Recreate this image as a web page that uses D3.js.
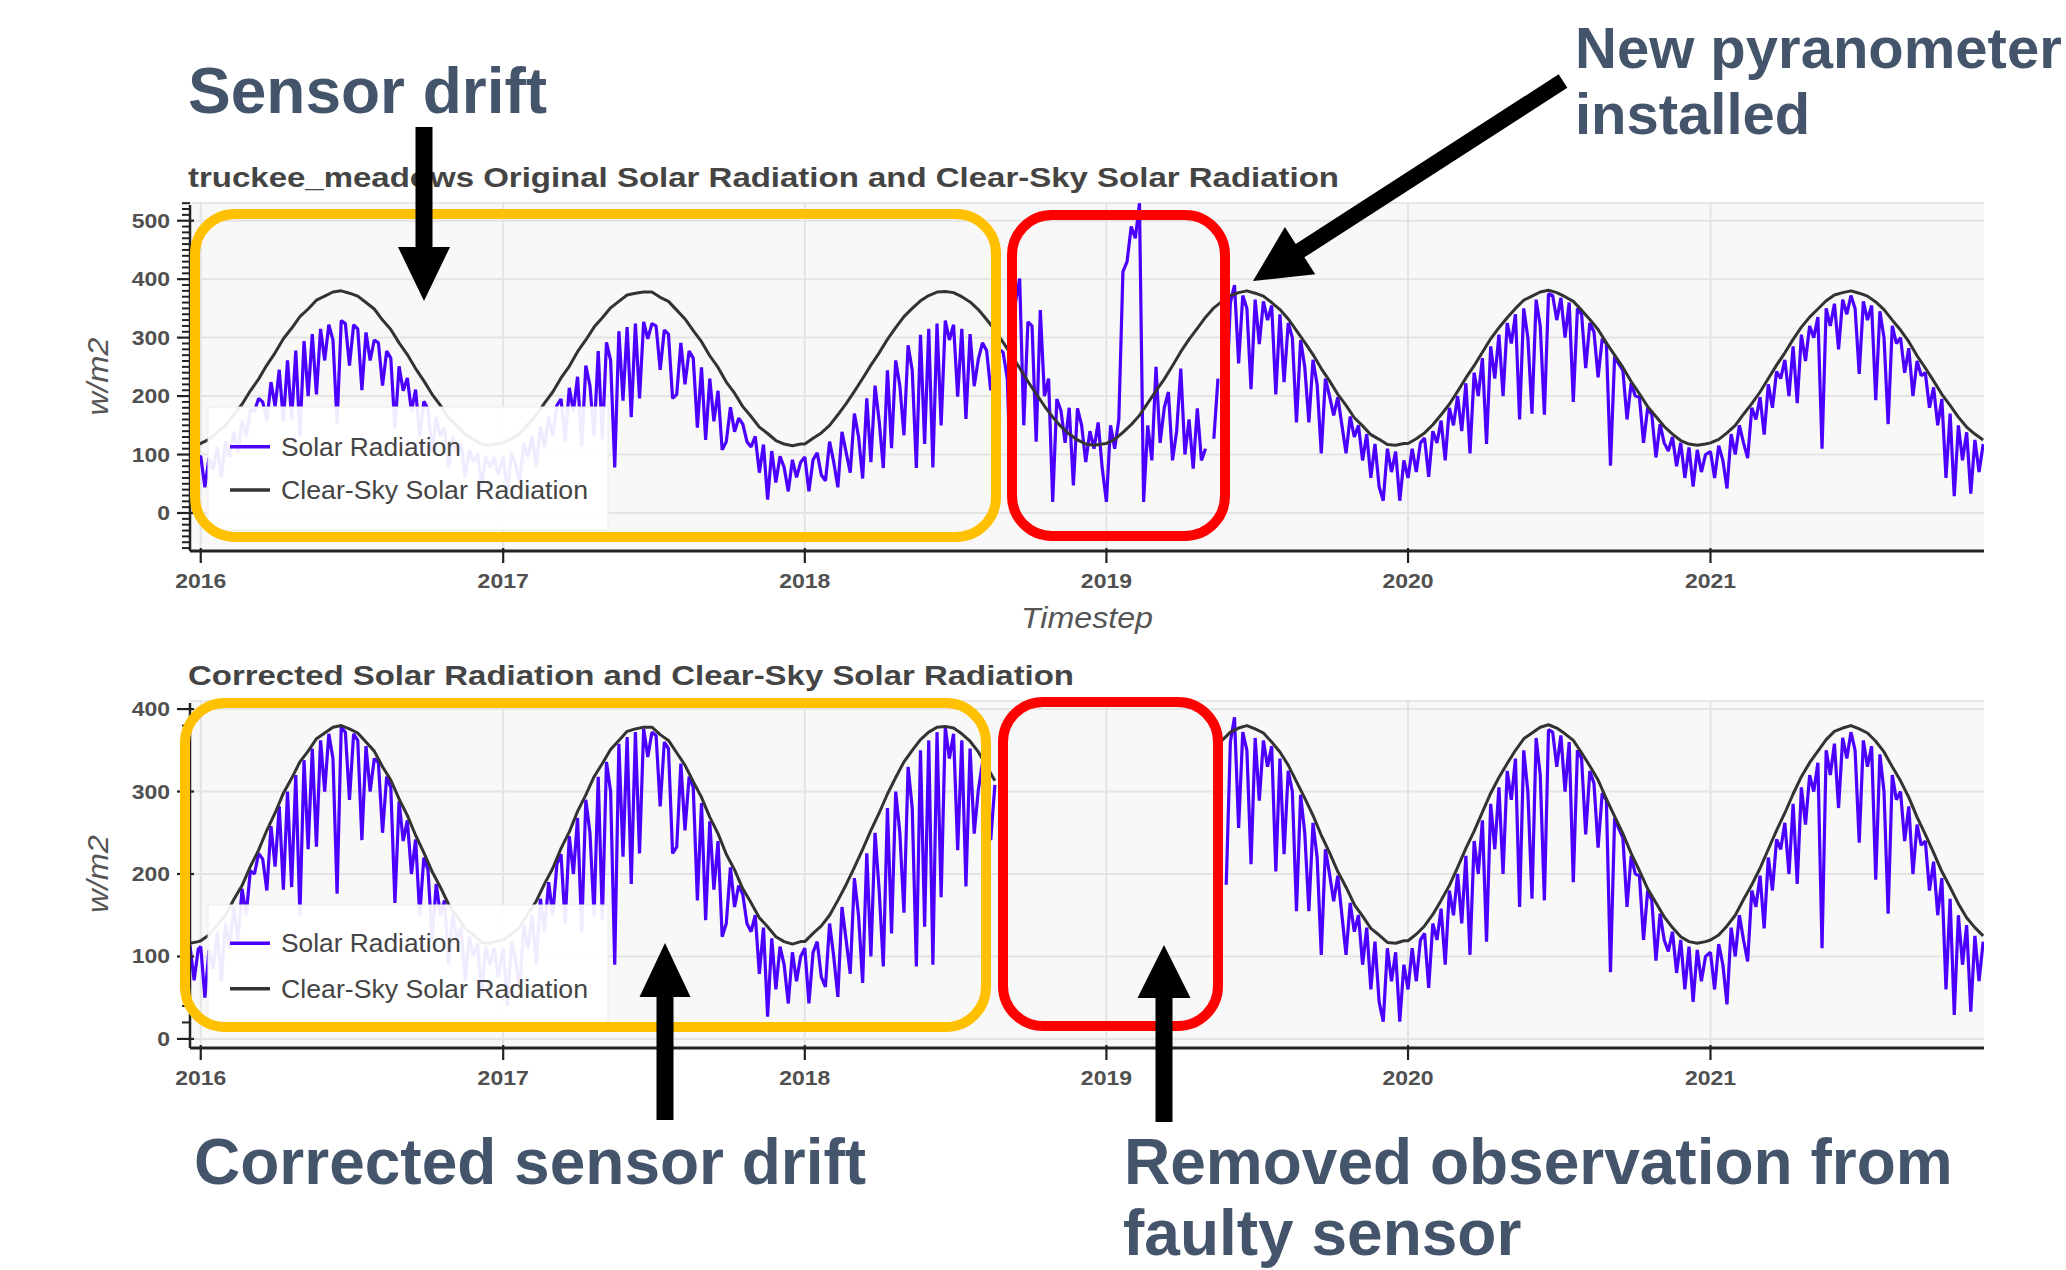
<!DOCTYPE html>
<html>
<head>
<meta charset="utf-8">
<script src="https://d3js.org/d3.v7.min.js"></script>
<style>
    html, body { margin: 0; padding: 0; background: #fff; }
    svg text { font-family: "Liberation Sans", Arial, sans-serif; }
    .title { font-size: 28px; font-weight: bold; fill: #444; }
    .tick-label { font-size: 20px; font-weight: bold; fill: #505050; }
    .axis-label { font-size: 30px; font-style: italic; fill: #555; }
    .legend-label { font-size: 25px; fill: #444; }
    .callout { font-size: 64px; font-weight: bold; fill: #44546a; }
</style>
</head>
<body>
<svg id="chart" width="2066" height="1270"></svg>
<script>

    // ---- data ----
    // solar radiation: one value every 5 days, clear-sky: one value every 10 days
    var yearTicks = [2016, 2017, 2018, 2019, 2020, 2021];
    var yTicksTop = [0, 100, 200, 300, 400, 500];
    var yTicksBottom = [0, 100, 200, 300, 400];
    var titles = ["truckee_meadows Original Solar Radiation and Clear-Sky Solar Radiation",
                  "Corrected Solar Radiation and Clear-Sky Solar Radiation"];
    var legendLabels = ["Solar Radiation", "Clear-Sky Solar Radiation"];

    var clearSky2015 = [116, 118];
    var clearSky2016 = [119,126,138,150,169,186,209,229,253,274,298,316,336,349,364,371,378,380,376,371,360,349,330,314,291,271,247,226,203,184,163,149,134,126,117,116,119];
    var clearSky2017 = [120,127,136,152,167,188,207,231,251,276,296,318,334,351,362,373,376,378,378,369,362,347,332,312,293,269,249,224,205,182,165,147,136,124,118,115,118];
    var clearSky2018 = [118,128,137,150,168,187,208,230,253,274,297,317,336,350,363,372,378,379,377,370,361,348,331,313,292,270,248,225,204,183,164,148,135,125,118,116,118];
    var clearSky2019 = [119,126,138,151,167,188,209,229,252,276,297,316,335,351,362,372,377,380,376,371,360,348,332,312,292,271,247,226,203,184,163,149,134,126,117,116,119];
    var clearSky2020 = [119,127,137,151,168,186,208,231,252,275,298,317,334,350,364,371,378,381,377,370,362,347,331,314,291,270,249,225,204,182,165,148,135,124,118,116,118];
    var clearSky2021 = [120,126,137,150,169,187,207,230,253,274,297,318,335,349,363,373,377,380,376,371,361,348,330,313,293,269,248,226,203,184,164,147,135,125];

    // original (drifting) sensor
    var original2015 = [98, 62, 95];
    var original2016 = [97,44,94,74,113,61,122,96,139,104,158,131,177,174,196,190,157,224,182,245,157,261,160,278,131,294,200,306,203,315,261,322,296,153,329,324,252,322,315,210,309,261,296,291,218,277,265,144,251,209,231,174,211,131,191,178,104,164,131,146,78,132,104,118,61,108,87,101,48,97,78,96,65];
    var original2017 = [96,35,103,83,52,120,96,131,78,148,113,165,131,184,195,122,214,174,233,113,252,218,131,277,126,292,261,78,311,192,318,164,324,196,327,298,324,320,245,313,306,196,203,291,220,277,265,146,249,125,230,157,209,108,122,181,139,162,152,122,113,131,69,117,23,106,52,97,78,37,91,61,87];
    var original2018 = [96,37,91,103,65,55,122,87,44,139,104,69,170,131,59,196,87,218,157,77,244,111,261,218,133,287,244,77,305,118,315,78,324,150,329,296,322,199,315,161,306,217,263,291,278,210,268];
    // faulty sensor, from 2018-08-24 and from 2019-01-01
    var faulty2018 = [280,275,230,20,360,401,150,327,320,122,347,200,230,19,195,175,120,180,47,179,150,87,140,110,155,76];
    var faulty2019 = [19,150,110,160,413,430,490,470,530,19,150,90,250,120,180,207,90,140,247,100,160,76,179,90,110,null,127,230,null];

    // corrected drift
    var corrected2015 = [113, 71, 109];
    var corrected2016 = [112,50,108,85,130,70,140,110,160,120,182,150,204,200,225,218,180,258,209,282,181,300,184,320,150,338,230,352,233,362,300,370,340,176,378,372,290,370,362,241,355,300,340,335,250,318,305,165,288,240,265,200,242,150,220,205,120,188,150,168,90,152,120,136,70,124,100,116,55,112,90,110,75];
    var corrected2017 = [110,40,118,95,60,138,110,150,90,170,130,190,150,212,224,140,246,200,268,130,290,250,150,318,145,336,300,90,358,221,366,188,372,225,376,342,372,368,282,360,352,225,233,334,253,318,305,168,286,144,264,181,240,124,140,208,160,186,175,140,130,150,79,135,27,122,60,112,90,43,105,70,100];
    var corrected2018 = [110,43,105,118,75,63,140,100,51,160,120,79,195,150,68,225,100,250,180,88,280,128,300,250,153,330,280,88,350,136,362,90,372,172,378,340,370,229,362,185,352,249,302,335,320,241,308];

    // new pyranometer, from 2019-05-26 (same in both panels)
    var newSensor2019 = [187,360,390,256,372,350,212,365,289,362,330,355,203,340,224,325,300,155,296,250,155,262,220,102,230,200,167,198,150,102,165,130,150,90,135,60,118,45,21,110,70,105,21,90];
    var newSensor2020 = [60,110,70,120,128,62,140,120,158,90,180,150,200,140,222,102,240,200,265,118,285,230,305,200,325,290,340,160,350,300,170,365,320,168,375,372,330,368,300,360,190,350,340,248,325,310,232,298,290,81,268,255,244,160,222,200,198,120,180,168,95,152,120,106,130,80,120,60,112,45,108,70,100];
    var newSensor2021 = [105,60,115,90,42,135,100,150,120,94,180,160,198,134,220,180,242,230,262,200,285,188,305,260,320,300,335,110,350,320,358,280,365,340,372,350,238,362,330,355,193,345,300,152,320,290,300,240,282,200,260,235,240,180,215,150,195,60,170,29,150,90,138,33,125,70,118];

    // ---- helpers ----
    var parse = d3.timeParse("%Y-%m-%d");

    function samples(start, step, values) {
        var t0 = parse(start);
        return values.map(function(v, i) {
            return {date: d3.timeDay.offset(t0, i * step), value: v};
        });
    }

    var clearSky = [].concat(
        samples("2015-12-19", 10, clearSky2015),
        samples("2016-01-01", 10, clearSky2016),
        samples("2017-01-01", 10, clearSky2017),
        samples("2018-01-01", 10, clearSky2018),
        samples("2019-01-01", 10, clearSky2019),
        samples("2020-01-01", 10, clearSky2020),
        samples("2021-01-01", 10, clearSky2021));

    var newSensor = [].concat(
        samples("2019-05-26", 5, newSensor2019),
        samples("2020-01-01", 5, newSensor2020),
        samples("2021-01-01", 5, newSensor2021));

    var originalSolar = [].concat(
        samples("2015-12-19", 5, original2015),
        samples("2016-01-01", 5, original2016),
        samples("2017-01-01", 5, original2017),
        samples("2018-01-01", 5, original2018),
        samples("2018-08-24", 5, faulty2018),
        samples("2019-01-01", 5, faulty2019));

    var correctedSolar = [].concat(
        samples("2015-12-19", 5, corrected2015),
        samples("2016-01-01", 5, corrected2016),
        samples("2017-01-01", 5, corrected2017),
        samples("2018-01-01", 5, corrected2018));

    // removed period in the corrected panel
    var gapStart = parse("2018-08-21"), gapEnd = parse("2019-05-18");
    var clearSkyCorrected = clearSky.map(function(d) {
        return {date: d.date, value: (d.date > gapStart && d.date < gapEnd) ? null : d.value};
    });

    var SOLAR = "#4b00ff", CLEAR = "#333333";

    var svg = d3.select("#chart");
    svg.append("rect").attr("width", 2066).attr("height", 1270).attr("fill", "#fff");

    var x = d3.scaleTime()
        .domain([new Date(2015, 11, 19), new Date(2021, 10, 28)])
        .range([190, 1984]);

    function stretchedText(g, px, py, txt, cls, anchor) {
        return g.append("text")
            .attr("class", cls)
            .attr("text-anchor", anchor)
            .attr("transform", "translate(" + px + "," + py + ") scale(1.15,1)")
            .text(txt);
    }

    function drawPanel(cfg) {
        var g = svg.append("g");
        var y = d3.scaleLinear().domain(cfg.domain).range([cfg.bottom, cfg.top]);
        var x0 = x.range()[0], x1 = x.range()[1];

        g.append("rect")
            .attr("x", x0).attr("y", cfg.top)
            .attr("width", x1 - x0).attr("height", cfg.bottom - cfg.top)
            .attr("fill", "#f8f8f8");
        g.append("line")
            .attr("x1", x0).attr("x2", x1).attr("y1", cfg.top + 1).attr("y2", cfg.top + 1)
            .attr("stroke", "#e8e8e8").attr("stroke-width", 2);

        // grid
        g.selectAll(".hgrid").data(cfg.yTicks).join("line")
            .attr("x1", x0).attr("x2", x1)
            .attr("y1", function(d) { return y(d); }).attr("y2", function(d) { return y(d); })
            .attr("stroke", "#e4e4e4").attr("stroke-width", 2);
        g.selectAll(".vgrid").data(yearTicks).join("line")
            .attr("x1", function(d) { return x(new Date(d, 0, 1)); })
            .attr("x2", function(d) { return x(new Date(d, 0, 1)); })
            .attr("y1", cfg.top).attr("y2", cfg.bottom)
            .attr("stroke", "#e4e4e4").attr("stroke-width", 2);

        // data
        svg.append("clipPath").attr("id", cfg.id + "-clip")
            .append("rect").attr("x", x0).attr("y", cfg.top)
            .attr("width", x1 - x0).attr("height", cfg.bottom - cfg.top);
        var plot = g.append("g").attr("clip-path", "url(#" + cfg.id + "-clip)");

        var line = d3.line()
            .defined(function(d) { return d.value != null; })
            .x(function(d) { return x(d.date); })
            .y(function(d) { return y(d.value); });

        cfg.solar.forEach(function(seg) {
            plot.append("path").datum(seg)
                .attr("d", line)
                .attr("fill", "none")
                .attr("stroke", SOLAR)
                .attr("stroke-width", 3.2)
                .attr("stroke-linejoin", "bevel");
        });
        plot.append("path").datum(cfg.clear)
            .attr("d", line)
            .attr("fill", "none")
            .attr("stroke", CLEAR)
            .attr("stroke-width", 3)
            .attr("stroke-linejoin", "round");

        // y axis
        g.append("line").attr("x1", x0).attr("x2", x0)
            .attr("y1", cfg.top + 3).attr("y2", cfg.bottom)
            .attr("stroke", "#222").attr("stroke-width", 2.5);
        var minor = d3.range(Math.ceil(cfg.domain[0] / cfg.minorStep) * cfg.minorStep, cfg.domain[1], cfg.minorStep)
            .filter(function(v) { return v % 100 !== 0; });
        g.selectAll(".minor").data(minor).join("line")
            .attr("x1", x0 - 8).attr("x2", x0)
            .attr("y1", function(d) { return y(d); }).attr("y2", function(d) { return y(d); })
            .attr("stroke", "#222").attr("stroke-width", 2);
        g.selectAll(".major").data(cfg.yTicks).join("line")
            .attr("x1", x0 - 13).attr("x2", x0 + 4)
            .attr("y1", function(d) { return y(d); }).attr("y2", function(d) { return y(d); })
            .attr("stroke", "#222").attr("stroke-width", 2.2);
        cfg.yTicks.forEach(function(v) {
            stretchedText(g, 170, y(v) + 7, String(v), "tick-label", "end");
        });

        // x axis
        g.append("line").attr("x1", x0).attr("x2", x1)
            .attr("y1", cfg.bottom).attr("y2", cfg.bottom)
            .attr("stroke", "#222").attr("stroke-width", 2.8);
        yearTicks.forEach(function(yr) {
            var px = x(new Date(yr, 0, 1));
            g.append("line").attr("x1", px).attr("x2", px)
                .attr("y1", cfg.bottom - 3).attr("y2", cfg.bottom + 12)
                .attr("stroke", "#222").attr("stroke-width", 2.2);
            stretchedText(g, px, cfg.bottom + 37, String(yr), "tick-label", "middle");
        });

        // y label
        g.append("text")
            .attr("class", "axis-label")
            .attr("text-anchor", "middle")
            .attr("transform", "translate(108," + ((cfg.top + cfg.bottom) / 2) + ") rotate(-90)")
            .attr("textLength", 78).attr("lengthAdjust", "spacingAndGlyphs")
            .text("w/m2");

        // title
        g.append("text").attr("class", "title")
            .attr("x", 188).attr("y", cfg.titleY)
            .attr("textLength", cfg.titleW).attr("lengthAdjust", "spacingAndGlyphs")
            .text(cfg.title);

        // legend
        var lg = g.append("g");
        lg.append("rect")
            .attr("x", cfg.legend.x).attr("y", cfg.legend.y)
            .attr("width", cfg.legend.w).attr("height", cfg.legend.h)
            .attr("fill", "#fff").attr("fill-opacity", 0.92)
            .attr("stroke", "#ececec").attr("stroke-width", 1);
        var colors = [SOLAR, CLEAR], widths = [180, 307];
        legendLabels.forEach(function(lbl, i) {
            var ly = cfg.legend.items[i];
            lg.append("line")
                .attr("x1", cfg.legend.x + 22).attr("x2", cfg.legend.x + 62)
                .attr("y1", ly).attr("y2", ly)
                .attr("stroke", colors[i]).attr("stroke-width", 3.5);
            lg.append("text").attr("class", "legend-label")
                .attr("x", cfg.legend.x + 73).attr("y", ly + 9)
                .attr("textLength", widths[i]).attr("lengthAdjust", "spacingAndGlyphs")
                .text(lbl);
        });
        return g;
    }

    drawPanel({
        id: "top", top: 202, bottom: 551, domain: [-65, 532],
        yTicks: yTicksTop, minorStep: 10,
        solar: [originalSolar, newSensor], clear: clearSky,
        title: titles[0], titleY: 187, titleW: 1151,
        legend: {x: 208, y: 407, w: 400, h: 123, items: [446.7, 490]}
    });

    drawPanel({
        id: "bottom", top: 700, bottom: 1048, domain: [-11, 411],
        yTicks: yTicksBottom, minorStep: 20,
        solar: [correctedSolar, newSensor], clear: clearSkyCorrected,
        title: titles[1], titleY: 685, titleW: 886,
        legend: {x: 208, y: 905, w: 400, h: 117, items: [943.3, 988.7]}
    });

    svg.append("text").attr("class", "axis-label")
        .attr("x", 1087).attr("y", 628).attr("text-anchor", "middle")
        .attr("textLength", 132).attr("lengthAdjust", "spacingAndGlyphs")
        .text("Timestep");

    // ---- slide annotations ----
    var notes = svg.append("g");

    function box(bx, by, bw, bh, color) {
        notes.append("rect")
            .attr("x", bx).attr("y", by).attr("width", bw).attr("height", bh)
            .attr("rx", 40).attr("ry", 40)
            .attr("fill", "none").attr("stroke", color).attr("stroke-width", 10);
    }
    box(195, 214, 801, 323, "#ffc000");
    box(1012, 215, 213, 321, "#ff0000");
    box(185, 703, 801, 324, "#ffc000");
    box(1003, 702, 215, 324, "#ff0000");

    function arrow(x1, y1, x2, y2, shaft, headLen, headW) {
        var dx = x2 - x1, dy = y2 - y1, L = Math.hypot(dx, dy);
        var ux = dx / L, uy = dy / L, px = -uy, py = ux;
        var bx = x2 - ux * headLen, by = y2 - uy * headLen;
        var pts = [
            [x1 + px * shaft / 2, y1 + py * shaft / 2],
            [bx + px * shaft / 2, by + py * shaft / 2],
            [bx + px * headW / 2, by + py * headW / 2],
            [x2, y2],
            [bx - px * headW / 2, by - py * headW / 2],
            [bx - px * shaft / 2, by - py * shaft / 2],
            [x1 - px * shaft / 2, y1 - py * shaft / 2]
        ];
        notes.append("polygon")
            .attr("points", pts.map(function(p) { return p.join(","); }).join(" "))
            .attr("fill", "#000");
    }
    arrow(424, 127, 424, 301, 17, 54, 52);
    arrow(1563, 81, 1253, 281, 16, 56, 56);
    arrow(665, 1120, 665, 943, 17, 54, 51);
    arrow(1164, 1122, 1164, 945, 17, 53, 53);

    // callouts; kept just inside the slide edges
    function note(nx, ny, txt, size) {
        var t = notes.append("text").attr("class", "callout").attr("x", nx).attr("y", ny).text(txt);
        if (size) t.style("font-size", size + "px");
    }
    note(188, 113, "Sensor drift");
    note(1575, 68, "New pyranometer", 58);
    note(1575, 134, "installed", 58);
    note(194, 1184, "Corrected sensor drift");
    note(1124, 1184, "Removed observation from");
    note(1123, 1255, "faulty sensor");

</script>
</body>
</html>
